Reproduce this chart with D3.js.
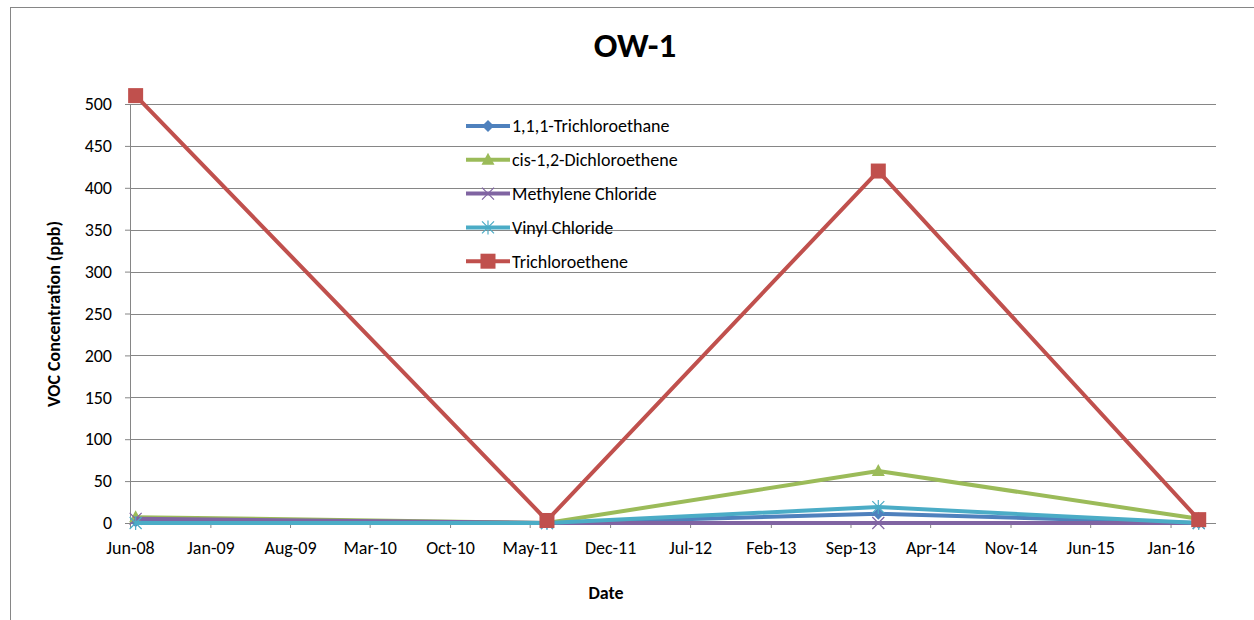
<!DOCTYPE html>
<html>
<head>
<meta charset="utf-8">
<script src="https://cdn.jsdelivr.net/npm/d3@7"></script>
<style>
  body { margin: 0; background: #fff; }
  svg { font-family: Calibri, Carlito, "Open Sans", sans-serif; }
  .axis path, .axis line { stroke: #868686; }
  .axis text { font-size: 18px; fill: #000; font-family: Calibri, Carlito, "Open Sans", sans-serif; }
</style>
</head>
<body>
<svg width="1254" height="620"></svg>
<script>
// sample dates and values
var dates = ["2008-06-16", "2011-06-16", "2013-11-14", "2016-03-16"];
var seriesNames = ["1,1,1-Trichloroethane", "cis-1,2-Dichloroethene", "Methylene Chloride", "Vinyl Chloride", "Trichloroethene"];
var tca = [2, 0, 11, 0];
var dce = [7, 0, 62, 5];
var mc = [5, 0, 0, 0];
var vc = [0, 0, 19, 0];
var tce = [510, 3, 420, 4];
var yTicks = [0, 50, 100, 150, 200, 250, 300, 350, 400, 450, 500];

var colors = ["#4F81BD", "#9BBB59", "#8064A2", "#4BACC6", "#C0504D"];
var markers = ["diamond", "triangle", "x", "star", "square"];
var values = [tca, dce, mc, vc, tce];

var parse = d3.timeParse("%Y-%m-%d");
var svg = d3.select("svg"),
    margin = { top: 104, right: 38, bottom: 97, left: 130 },
    width = +svg.attr("width") - margin.left - margin.right,
    height = +svg.attr("height") - margin.top - margin.bottom;

// chart border
svg.append("rect")
    .attr("x", 10.5).attr("y", 7.5)
    .attr("width", 1260).attr("height", 640)
    .attr("fill", "none").attr("stroke", "#868686");

var start = new Date(2008, 5, 1), end = new Date(2016, 4, 1);
var x = d3.scaleTime().domain([start, end]).range([0, width]);
var y = d3.scaleLinear().domain([0, 500]).range([height, 0]);

// Excel date axis: a tick every 7 months from the minimum
var xTicks = [];
for (var i = 0; d3.timeMonth.offset(start, 7 * i) < end; i++) xTicks.push(d3.timeMonth.offset(start, 7 * i));

var g = svg.append("g")
    .attr("transform", "translate(" + margin.left + "," + margin.top + ")");

// horizontal gridlines
g.selectAll(".grid")
    .data(yTicks.slice(1))
    .enter().append("line")
    .attr("x1", 0).attr("x2", width)
    .attr("y1", function (d) { return Math.round(y(d)) + 0.5; })
    .attr("y2", function (d) { return Math.round(y(d)) + 0.5; })
    .attr("stroke", "#868686");

var yAxis = g.append("g")
    .attr("class", "axis")
    .call(d3.axisLeft(y).tickValues(yTicks).tickSize(5).tickPadding(13));
yAxis.select(".domain").attr("d", "M0.5," + height + "V0");

var xAxis = g.append("g")
    .attr("class", "axis")
    .attr("transform", "translate(0," + height + ")")
    .call(d3.axisBottom(x).tickValues(xTicks).tickFormat(d3.timeFormat("%b-%y")).tickSize(5).tickPadding(13));
xAxis.select(".domain").attr("d", "M0,0.5H" + width);

// lines and markers
var line = d3.line()
    .x(function (d, i) { return x(parse(dates[i])); })
    .y(function (d) { return y(d); });

function marker(sel, type, color) {
    if (type === "square") {
        sel.append("rect").attr("x", -7.5).attr("y", -7.5).attr("width", 15).attr("height", 15).attr("fill", color);
    } else if (type === "diamond") {
        sel.append("path").attr("d", "M0,-6L6,0L0,6L-6,0Z").attr("fill", color);
    } else if (type === "triangle") {
        sel.append("path").attr("d", "M0,-7L6.5,5L-6.5,5Z").attr("fill", color);
    } else if (type === "x") {
        sel.append("path").attr("d", "M-6,-6L6,6M-6,6L6,-6").attr("stroke", color).attr("stroke-width", 1.2);
    } else {
        sel.append("path").attr("d", "M-6,-6L6,6M-6,6L6,-6M0,-7V7").attr("stroke", color).attr("stroke-width", 1.2);
    }
}

values.forEach(function (vals, s) {
    g.append("path")
        .datum(vals)
        .attr("fill", "none")
        .attr("stroke", colors[s])
        .attr("stroke-width", 4)
        .attr("stroke-linejoin", "round")
        .attr("d", line);
    vals.forEach(function (v, i) {
        var m = g.append("g").attr("transform", "translate(" + x(parse(dates[i])) + "," + y(v) + ")");
        marker(m, markers[s], colors[s]);
    });
});

// legend
var legend = svg.append("g").attr("transform", "translate(466,126)");
seriesNames.forEach(function (name, s) {
    var row = legend.append("g").attr("transform", "translate(0," + (s * 33.8) + ")");
    row.append("line").attr("x1", 0).attr("x2", 44).attr("stroke", colors[s]).attr("stroke-width", 4);
    marker(row.append("g").attr("transform", "translate(22,0)"), markers[s], colors[s]);
    row.append("text").attr("x", 46).attr("dy", "0.35em").style("font-size", "18px").text(name);
});

// titles
svg.append("text").attr("x", 635).attr("y", 57)
    .attr("text-anchor", "middle").style("font-size", "35px").style("font-weight", "bold").text("OW-1");
svg.append("text").attr("x", 606).attr("y", 599)
    .attr("text-anchor", "middle").style("font-size", "18px").style("font-weight", "bold").text("Date");
svg.append("text").attr("transform", "translate(60,314) rotate(-90)")
    .attr("text-anchor", "middle").style("font-size", "18px").style("font-weight", "bold").text("VOC Concentration (ppb)");
</script>
</body>
</html>
